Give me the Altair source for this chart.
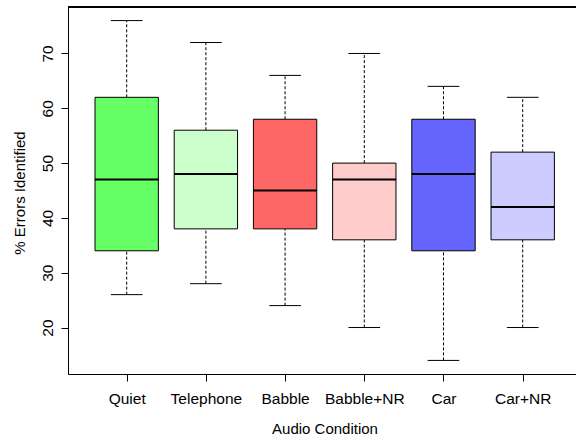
import altair as alt
import pandas as pd

conditions = ["Quiet", "Telephone", "Babble", "Babble+NR", "Car", "Car+NR"]
lower = [26, 28, 24, 20, 14, 20]
q1 = [34, 38, 38, 36, 34, 36]
median = [47, 48, 45, 47, 48, 42]
q3 = [62, 56, 58, 50, 58, 52]
upper = [76, 72, 66, 70, 64, 62]
colors = ["#66FF66", "#CCFFCC", "#FF6666", "#FFCCCC", "#6666FF", "#CCCCFF"]
y_ticks = [20, 30, 40, 50, 60, 70]

df = pd.DataFrame({
    "cond": conditions,
    "pos": list(range(1, len(conditions) + 1)),
    "lower": lower, "q1": q1, "median": median, "q3": q3, "upper": upper,
    "color": colors,
})

W, H = 508, 367
FONT = "Liberation Sans"

label_expr = "[" + ",".join('"%s"' % c for c in conditions) + "][datum.value - 1]"

xscale = alt.Scale(domain=[0.259, 6.673], nice=False, zero=False)
yscale = alt.Scale(domain=[11.52, 78.48], nice=False, zero=False)

xaxis = alt.Axis(values=list(range(1, 7)), labelExpr=label_expr, grid=False,
                 domainColor="black", tickColor="black", tickSize=7,
                 labelPadding=10, labelFontSize=15.5, labelFont=FONT, labelColor="black",
                 title="Audio Condition", titleFont=FONT, titleFontSize=15,
                 titleFontWeight="normal", titleColor="black",
                 titleBaseline="alphabetic", titleY=59, titleX=256.5,
                 labelBaseline="top")
yaxis = alt.Axis(values=y_ticks, grid=False, domainColor="black", tickColor="black",
                 tickSize=7, labelPadding=9, labelAngle=270, labelAlign="center",
                 labelBaseline="alphabetic", labelFontSize=15.5, labelFont=FONT,
                 labelColor="black",
                 title="% Errors Identified", titleFont=FONT, titleFontSize=15,
                 titleFontWeight="normal", titleColor="black", titleAngle=270,
                 titleBaseline="alphabetic", titleX=-44, titleY=185.5)

base = alt.Chart(df).transform_calculate(
    xl="datum.pos - 0.4", xr="datum.pos + 0.4",
    cl="datum.pos - 0.2", cr="datum.pos + 0.2",
)

def X(field):
    return alt.X(field, type="quantitative", scale=xscale, axis=xaxis)

def Y(field):
    return alt.Y(field, type="quantitative", scale=yscale, axis=yaxis)

whisk_up = base.mark_rule(color="black", strokeWidth=1, strokeDash=[3, 2]).encode(
    x=X("pos"), y=Y("q3"), y2="upper")
whisk_lo = base.mark_rule(color="black", strokeWidth=1, strokeDash=[3, 2]).encode(
    x=X("pos"), y=Y("lower"), y2="q1")
cap_up = base.mark_rule(color="black", strokeWidth=1).encode(
    x=X("cl"), x2="cr", y=Y("upper"))
cap_lo = base.mark_rule(color="black", strokeWidth=1).encode(
    x=X("cl"), x2="cr", y=Y("lower"))
box = base.mark_rect(stroke="black", strokeWidth=1).encode(
    x=X("xl"), x2="xr", y=Y("q1"), y2="q3",
    fill=alt.Fill("color:N", scale=None))
med = base.mark_rule(color="black", strokeWidth=2).encode(
    x=X("xl"), x2="xr", y=Y("median"))
top = alt.Chart(df).mark_rule(color="black", strokeWidth=1).encode(
    x=alt.value(0), x2=alt.value(W), y=alt.value(0))

chart = alt.layer(whisk_up, whisk_lo, cap_up, cap_lo, box, med, top).properties(
    width=W, height=H,
    autosize=alt.AutoSizeParams(type="none"),
    padding={"left": 68, "top": 7, "right": 0, "bottom": 63},
    background="white",
).configure_view(stroke=None)

chart.save("out.html", embed_options={"renderer": "svg", "actions": False})
